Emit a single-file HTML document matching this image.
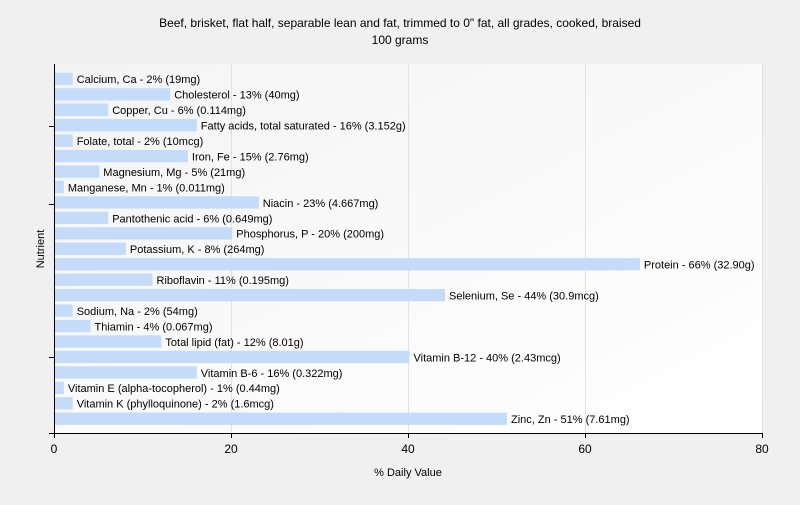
<!DOCTYPE html>
<html><head><meta charset="utf-8"><style>body{margin:0;background:#f0f0f0}</style></head><body>
<svg width="800" height="500" xmlns="http://www.w3.org/2000/svg" font-family="Liberation Sans, sans-serif">
<defs><linearGradient id="g" x1="0" y1="0" x2="1" y2="1"><stop offset="0" stop-color="#f4f4f4"/><stop offset="1" stop-color="#ffffff"/></linearGradient></defs>
<rect width="800" height="500" fill="#f0f0f0"/>
<rect x="54" y="64" width="709" height="369" fill="url(#g)"/>
<g stroke="#e2e2e2" stroke-width="1">
<line x1="231.5" y1="64" x2="231.5" y2="433"/><line x1="408.5" y1="64" x2="408.5" y2="433"/><line x1="585.5" y1="64" x2="585.5" y2="433"/><line x1="762.5" y1="64" x2="762.5" y2="433"/>
</g>
<text x="400" y="27" font-size="12" text-anchor="middle">Beef, brisket, flat half, separable lean and fat, trimmed to 0" fat, all grades, cooked, braised</text>
<text x="400" y="44" font-size="12" text-anchor="middle">100 grams</text>
<g fill="#c4dcfa">
<rect x="55" y="72.7" width="17.7" height="12.3"/>
<rect x="55" y="88.15" width="115.2" height="12.3"/>
<rect x="55" y="103.6" width="53.2" height="12.3"/>
<rect x="55" y="119.05" width="141.8" height="12.3"/>
<rect x="55" y="134.5" width="17.7" height="12.3"/>
<rect x="55" y="149.95" width="132.9" height="12.3"/>
<rect x="55" y="165.4" width="44.3" height="12.3"/>
<rect x="55" y="180.85" width="8.9" height="12.3"/>
<rect x="55" y="196.3" width="203.8" height="12.3"/>
<rect x="55" y="211.75" width="53.2" height="12.3"/>
<rect x="55" y="227.2" width="177.3" height="12.3"/>
<rect x="55" y="242.65" width="70.9" height="12.3"/>
<rect x="55" y="258.1" width="584.9" height="12.3"/>
<rect x="55" y="273.55" width="97.5" height="12.3"/>
<rect x="55" y="289" width="390" height="12.3"/>
<rect x="55" y="304.45" width="17.7" height="12.3"/>
<rect x="55" y="319.9" width="35.5" height="12.3"/>
<rect x="55" y="335.35" width="106.4" height="12.3"/>
<rect x="55" y="350.8" width="354.5" height="12.3"/>
<rect x="55" y="366.25" width="141.8" height="12.3"/>
<rect x="55" y="381.7" width="8.9" height="12.3"/>
<rect x="55" y="397.15" width="17.7" height="12.3"/>
<rect x="55" y="412.6" width="452" height="12.3"/>
</g>
<g font-size="11" fill="#000">
<text x="76.7" y="83.2">Calcium, Ca - 2% (19mg)</text>
<text x="174.2" y="98.65">Cholesterol - 13% (40mg)</text>
<text x="112.2" y="114.1">Copper, Cu - 6% (0.114mg)</text>
<text x="200.8" y="129.55">Fatty acids, total saturated - 16% (3.152g)</text>
<text x="76.7" y="145">Folate, total - 2% (10mcg)</text>
<text x="191.9" y="160.45">Iron, Fe - 15% (2.76mg)</text>
<text x="103.3" y="175.9">Magnesium, Mg - 5% (21mg)</text>
<text x="67.9" y="191.35">Manganese, Mn - 1% (0.011mg)</text>
<text x="262.8" y="206.8">Niacin - 23% (4.667mg)</text>
<text x="112.2" y="222.25">Pantothenic acid - 6% (0.649mg)</text>
<text x="236.3" y="237.7">Phosphorus, P - 20% (200mg)</text>
<text x="129.9" y="253.15">Potassium, K - 8% (264mg)</text>
<text x="643.9" y="268.6">Protein - 66% (32.90g)</text>
<text x="156.5" y="284.05">Riboflavin - 11% (0.195mg)</text>
<text x="449" y="299.5">Selenium, Se - 44% (30.9mcg)</text>
<text x="76.7" y="314.95">Sodium, Na - 2% (54mg)</text>
<text x="94.5" y="330.4">Thiamin - 4% (0.067mg)</text>
<text x="165.4" y="345.85">Total lipid (fat) - 12% (8.01g)</text>
<text x="413.5" y="361.3">Vitamin B-12 - 40% (2.43mcg)</text>
<text x="200.8" y="376.75">Vitamin B-6 - 16% (0.322mg)</text>
<text x="67.9" y="392.2">Vitamin E (alpha-tocopherol) - 1% (0.44mg)</text>
<text x="76.7" y="407.65">Vitamin K (phylloquinone) - 2% (1.6mcg)</text>
<text x="511" y="423.1">Zinc, Zn - 51% (7.61mg)</text>
</g>
<g stroke="#000" stroke-width="1">
<line x1="54.5" y1="64" x2="54.5" y2="434"/><line x1="49" y1="433.5" x2="763" y2="433.5"/>
<line x1="49" y1="126.5" x2="54" y2="126.5"/><line x1="49" y1="204.5" x2="54" y2="204.5"/><line x1="49" y1="357.5" x2="54" y2="357.5"/>
<line x1="54.5" y1="433" x2="54.5" y2="438"/><line x1="231.5" y1="433" x2="231.5" y2="438"/><line x1="408.5" y1="433" x2="408.5" y2="438"/><line x1="585.5" y1="433" x2="585.5" y2="438"/><line x1="762.5" y1="433" x2="762.5" y2="438"/>
</g>
<g font-size="12" text-anchor="middle"><text x="54" y="453">0</text><text x="231" y="453">20</text><text x="408" y="453">40</text><text x="585" y="453">60</text><text x="762" y="453">80</text></g>
<text x="408" y="476" font-size="11" text-anchor="middle">% Daily Value</text>
<text transform="translate(44,249) rotate(-90)" font-size="11" text-anchor="middle">Nutrient</text>
</svg>
</body></html>
